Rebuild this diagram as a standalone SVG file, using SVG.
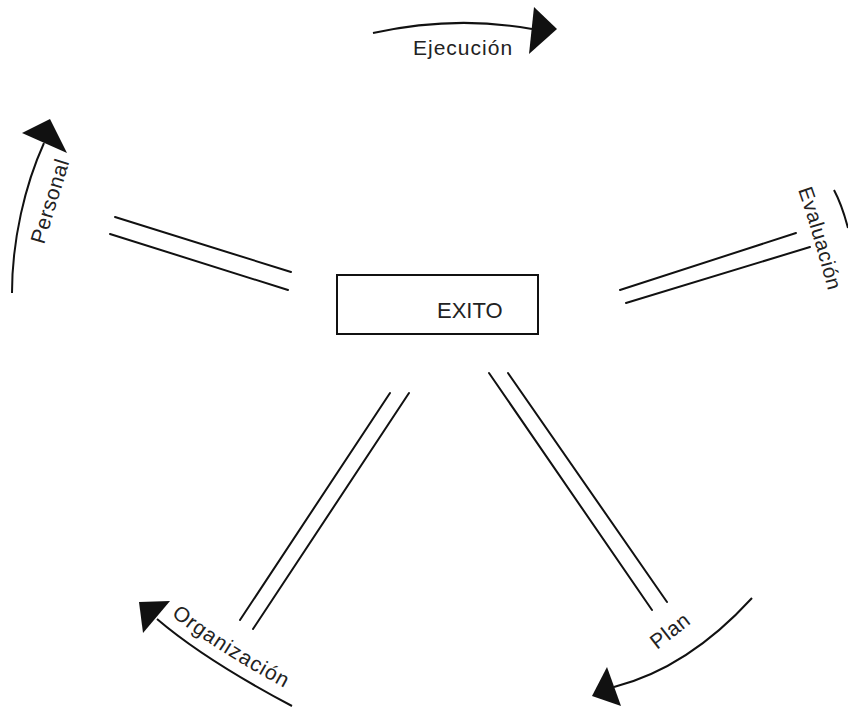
<svg xmlns="http://www.w3.org/2000/svg" width="848" height="708" viewBox="0 0 848 708">
<style>
.ln{fill:none;stroke:#111;stroke-width:2;stroke-linecap:round}
.arc{fill:none;stroke:#111;stroke-width:2}
.hd{fill:#111;stroke:none}
.t{font-family:"Liberation Sans",Arial,sans-serif;font-size:21px;fill:#222;letter-spacing:0.6px}
</style>
<defs>
<path id="orgPath" d="M165,610 Q212,650 298,695"/>
<path id="evaPath" d="M798,190 Q813,232 831,302"/>
</defs>
<rect width="848" height="708" fill="#fff"/>
<g id="exito">
<rect x="337" y="275" width="201" height="59" fill="none" stroke="#111" stroke-width="2"/>
<text class="t" x="437" y="318" style="font-size:22px;letter-spacing:0">EXITO</text>
</g>
<g id="connectors">
<line class="ln" x1="115" y1="217" x2="291" y2="272"/>
<line class="ln" x1="110" y1="234" x2="288" y2="290"/>
<line class="ln" x1="620" y1="290" x2="796" y2="233"/>
<line class="ln" x1="626" y1="303" x2="810" y2="247"/>
<line class="ln" x1="390" y1="393" x2="240" y2="620"/>
<line class="ln" x1="409" y1="393" x2="253" y2="629"/>
<line class="ln" x1="489" y1="373" x2="652" y2="610"/>
<line class="ln" x1="508" y1="373" x2="667" y2="602"/>
</g>
<g id="ejecucion">
<path class="arc" d="M373,33 Q455,15 532,29"/>
<polygon class="hd" points="534,7 557,29 529,54"/>
<text class="t" x="413" y="55" style="letter-spacing:1px">Ejecución</text>
</g>
<g id="personal">
<path class="arc" d="M12,293 C12,240 25,185 44,143"/>
<polygon class="hd" points="50,119 67,153 22,133"/>
<text class="t" transform="translate(44,245) rotate(-73)">Personal</text>
</g>
<g id="evaluacion">
<path class="arc" d="M834,190 Q842,205 848,228"/>
<text class="t" style="font-size:20.5px"><textPath href="#evaPath">Evaluación</textPath></text>
</g>
<g id="organizacion">
<path class="arc" d="M157,619 Q205,660 292,706"/>
<polygon class="hd" points="139,602 170,601 143,633"/>
<text class="t" style="letter-spacing:1px"><textPath href="#orgPath" startOffset="8">Organización</textPath></text>
</g>
<g id="plan">
<path class="arc" d="M752,598 Q688,668 614,687"/>
<polygon class="hd" points="607,667 592,696 621,706"/>
<text class="t" transform="translate(657,650) rotate(-38)">Plan</text>
</g>
</svg>
